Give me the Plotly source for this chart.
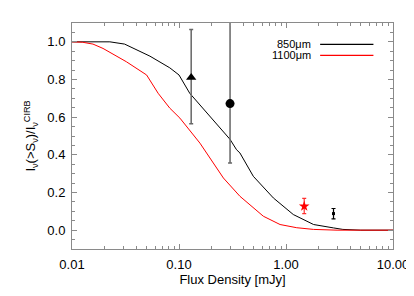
import plotly.graph_objects as go

# 850 micron curve
x850 = [0.01, 0.02, 0.0226, 0.031, 0.0535, 0.082, 0.1, 0.126, 0.195, 0.3, 0.345, 0.371, 0.495, 0.762, 1.17, 1.81, 2.78, 3.4, 5.0, 10.0]
y850 = [1.0, 1.0, 1.0, 0.988, 0.924, 0.862, 0.824, 0.727, 0.603, 0.482, 0.427, 0.41, 0.286, 0.171, 0.083, 0.03, 0.012, 0.004, 0.0, 0.0]

# 1100 micron curve
x1100 = [0.01, 0.0125, 0.0157, 0.0195, 0.0323, 0.0498, 0.0638, 0.082, 0.102, 0.157, 0.26, 0.371, 0.614, 0.88, 1.26, 1.81, 3.0, 10.0]
y1100 = [1.0, 0.998, 0.988, 0.965, 0.894, 0.824, 0.727, 0.648, 0.595, 0.462, 0.277, 0.18, 0.074, 0.03, 0.013, 0.004, 0.0, 0.0]

# measurements
tri_x = [0.13]; tri_y = [0.81]; tri_up = [0.256]; tri_lo = [0.245]
circ_x = [0.3]; circ_y = [0.672]; circ_up = [0.6]; circ_lo = [0.315]
star_x = [1.48]; star_y = [0.127]; star_up = [0.042]; star_lo = [0.039]
sq_x = [2.78]; sq_y = [0.088]; sq_up = [0.027]; sq_lo = [0.028]

legend_names = ["850μm", "1100μm"]
legend_colors = ["black", "#ff0000"]

xtick_vals = [0.01, 0.1, 1, 10]
xtick_text = ["0.01", "0.10", "1.00", "10.00"]
xminor = [m * d for d in [0.01, 0.1, 1] for m in range(2, 10)]

FONT = "Liberation Sans, Arial, sans-serif"
AX = "#8a8a8a"

fig = go.Figure()
fig.add_trace(go.Scatter(x=x850, y=y850, mode="lines", line=dict(color="black", width=1), showlegend=False))
fig.add_trace(go.Scatter(x=x1100, y=y1100, mode="lines", line=dict(color="#ff0000", width=1), showlegend=False))

fig.add_trace(go.Scatter(x=tri_x, y=tri_y, mode="markers",
                         marker=dict(symbol="triangle-up", size=9, color="black"),
                         error_y=dict(type="data", symmetric=False, array=tri_up, arrayminus=tri_lo,
                                      color="#666666", thickness=1.5, width=2),
                         showlegend=False))
fig.add_trace(go.Scatter(x=circ_x, y=circ_y, mode="markers",
                         marker=dict(symbol="circle", size=9, color="black"),
                         error_y=dict(type="data", symmetric=False, array=circ_up, arrayminus=circ_lo,
                                      color="#666666", thickness=1.5, width=2),
                         showlegend=False))
fig.add_trace(go.Scatter(x=star_x, y=star_y, mode="markers",
                         marker=dict(symbol="star", size=8, color="#ff0000"),
                         error_y=dict(type="data", symmetric=False, array=star_up, arrayminus=star_lo,
                                      color="#ff3030", thickness=1.2, width=2),
                         showlegend=False))
fig.add_trace(go.Scatter(x=sq_x, y=sq_y, mode="markers",
                         marker=dict(symbol="square", size=3, color="black"),
                         error_y=dict(type="data", symmetric=False, array=sq_up, arrayminus=sq_lo,
                                      color="black", thickness=1.2, width=2),
                         showlegend=False))

# legend (text left of line, as in the original)
leg_y = [0.905, 0.857]
for name, col, yy in zip(legend_names, legend_colors, leg_y):
    fig.add_annotation(x=0.75, y=yy, xref="paper", yref="paper", text=name, showarrow=False,
                       xanchor="right", yanchor="middle", font=dict(size=11, color="black", family=FONT))
    fig.add_shape(type="line", xref="paper", yref="paper", x0=0.773, x1=0.939, y0=yy, y1=yy,
                  line=dict(color=col, width=1.2))

fig.update_xaxes(type="log", range=[-2, 1], tickvals=xtick_vals, ticktext=xtick_text,
                 ticks="inside", ticklen=5, tickcolor=AX, showline=True, linecolor=AX, linewidth=1,
                 mirror="ticks", showgrid=False, zeroline=False, automargin=False, ticklabelstandoff=3,
                 minor=dict(tickmode="array", tickvals=xminor, ticks="inside", ticklen=3, tickcolor=AX, showgrid=False),
                 tickfont=dict(size=13, color="black", family=FONT),
                 title=dict(text="Flux Density [mJy]", font=dict(size=13, color="black", family=FONT), standoff=3))
fig.update_yaxes(range=[-0.1, 1.1], tick0=0, dtick=0.2, tickformat=".1f",
                 ticks="inside", ticklen=5, tickcolor=AX, showline=True, linecolor=AX, linewidth=1,
                 mirror="ticks", showgrid=False, zeroline=False, automargin=False, ticklabelstandoff=3,
                 minor=dict(dtick=0.05, ticks="inside", ticklen=3, tickcolor=AX, showgrid=False),
                 tickfont=dict(size=13, color="black", family=FONT),
                 title=dict(text="I<sub>ν</sub>(>S<sub>ν</sub>)/I<sub>ν</sub><sup>CIRB</sup>",
                            font=dict(size=13, color="black", family=FONT), standoff=8))

# the page body adds an 8px offset, so the figure is 8px smaller and margins shifted
fig.update_layout(width=406, height=288, margin=dict(l=64, r=21, t=15, b=47),
                  plot_bgcolor="white", paper_bgcolor="white", showlegend=False)

fig.write_html("out.html")
